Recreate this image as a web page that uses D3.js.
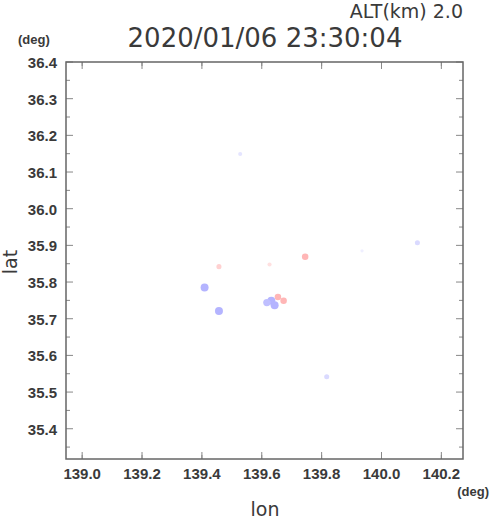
<!DOCTYPE html>
<html>
<head>
<meta charset="utf-8">
<script src="https://cdn.jsdelivr.net/npm/d3@7"></script>
<style>
body { margin: 0; background: #fff; }
text { fill: #3a3a3a; }
.tick-label { font-family: "Liberation Sans", Arial, sans-serif; font-weight: bold; font-size: 15px; }
</style>
</head>
<body>
<div id="chart"></div>
<script>
var width = 490;
var height = 521;

// echo cells: lon, lat and echo value (neg = blue, pos = red)
var lon = [139.528, 139.457, 139.409, 139.457, 139.626, 139.745, 139.632, 139.643, 139.617, 139.654, 139.673, 139.935, 140.120, 139.817];
var lat = [36.149, 35.842, 35.785, 35.721, 35.848, 35.869, 35.749, 35.737, 35.744, 35.759, 35.749, 35.885, 35.907, 35.542];
var val = [-0.8, 1.2, -3, -3, 0.8, 2, -3, -3, -2.5, 2, 2, -0.5, -1.2, -1.2];

var xTicks = [139.0, 139.2, 139.4, 139.6, 139.8, 140.0, 140.2];
var yTicks = [35.4, 35.5, 35.6, 35.7, 35.8, 35.9, 36.0, 36.1, 36.2, 36.3, 36.4];
var xDomain = [138.946, 140.2723];
var yDomain = [35.3175, 36.4];

var titleText = '2020/01/06 23:30:04';
var altText = 'ALT(km) 2.0';

// plot box (window.top is reserved, so pL/pT/pR/pB)
var pL = 66, pT = 62, pR = 463, pB = 459;

var svg = d3.select('#chart')
    .append('svg')
    .attr('width', width)
    .attr('height', height);

var x = d3.scaleLinear().domain(xDomain).range([pL, pR]);
var y = d3.scaleLinear().domain(yDomain).range([pB, pT]);

var xMinor = d3.range(138.9, 140.31, 0.2).map(function(d) { return d + 0.1; })
    .filter(function(d) { return d > xDomain[0] && d < xDomain[1]; });
var yMinor = d3.range(35.35, 36.4, 0.1);

var frame = svg.append('g');

// ticks on all four sides, pointing inward
function drawXTicks(vals, len) {
    vals.forEach(function(v) {
        var px = x(v);
        frame.append('line').attr('x1', px).attr('x2', px).attr('y1', pB).attr('y2', pB - len);
        frame.append('line').attr('x1', px).attr('x2', px).attr('y1', pT).attr('y2', pT + len);
    });
}
function drawYTicks(vals, len) {
    vals.forEach(function(v) {
        var py = y(v);
        frame.append('line').attr('x1', pL).attr('x2', pL + len).attr('y1', py).attr('y2', py);
        frame.append('line').attr('x1', pR).attr('x2', pR - len).attr('y1', py).attr('y2', py);
    });
}
drawXTicks(xTicks, 7);
drawXTicks(xMinor, 4);
drawYTicks(yTicks, 7);
drawYTicks(yMinor, 4);
frame.selectAll('line').attr('stroke', '#888').attr('stroke-width', 1);

frame.append('rect')
    .attr('x', pL).attr('y', pT)
    .attr('width', pR - pL).attr('height', pB - pT)
    .attr('fill', 'none').attr('stroke', '#666').attr('stroke-width', 1.5);

svg.selectAll('text.xl')
    .data(xTicks)
    .enter().append('text')
    .attr('class', 'tick-label xl')
    .attr('x', function(d) { return x(d); })
    .attr('y', 479)
    .attr('text-anchor', 'middle')
    .text(function(d) { return d.toFixed(1); });

svg.selectAll('text.yl')
    .data(yTicks)
    .enter().append('text')
    .attr('class', 'tick-label yl')
    .attr('x', 57)
    .attr('y', function(d) { return y(d) + 6; })
    .attr('text-anchor', 'end')
    .text(function(d) { return d.toFixed(1); });

// echoes, slightly soft like the radar image
var defs = svg.append('defs');
defs.append('filter').attr('id', 'soft')
    .append('feGaussianBlur').attr('stdDeviation', 0.6);

var color = d3.scaleLinear().domain([-3, -1, 0, 1, 2]).range(['#b4b4ff', '#dedeff', '#ffffff', '#ffd8d8', '#ffb6b6']);
var size = d3.scaleSqrt().domain([0, 3]).range([0, 4]);
var pts = lon.map(function(d, i) { return { lon: d, lat: lat[i], v: val[i] }; });
svg.append('g').attr('filter', 'url(#soft)').selectAll('circle')
    .data(pts)
    .enter().append('circle')
    .attr('cx', function(d) { return x(d.lon); })
    .attr('cy', function(d) { return y(d.lat); })
    .attr('r', function(d) { return size(Math.abs(d.v)); })
    .attr('fill', function(d) { return color(d.v); });

svg.append('text')
    .attr('x', 265).attr('y', 47)
    .attr('text-anchor', 'middle')
    .style('font-family', '"DejaVu Sans", sans-serif')
    .style('font-size', '26px')
    .text(titleText);

svg.append('text')
    .attr('x', 463).attr('y', 18)
    .attr('text-anchor', 'end')
    .style('font-family', '"DejaVu Sans", sans-serif')
    .style('font-size', '19px')
    .text(altText);

svg.append('text')
    .attr('class', 'tick-label')
    .attr('x', 18).attr('y', 44)
    .style('font-size', '13px')
    .text('(deg)');

svg.append('text')
    .attr('class', 'tick-label')
    .attr('x', 489).attr('y', 496)
    .attr('text-anchor', 'end')
    .style('font-size', '13px')
    .text('(deg)');

svg.append('text')
    .attr('x', 265).attr('y', 516)
    .attr('text-anchor', 'middle')
    .style('font-family', '"DejaVu Sans", sans-serif')
    .style('font-size', '19px')
    .text('lon');

svg.append('text')
    .attr('transform', 'translate(17,262) rotate(-90)')
    .attr('text-anchor', 'middle')
    .style('font-family', '"DejaVu Sans", sans-serif')
    .style('font-size', '19px')
    .text('lat');
</script>
</body>
</html>
